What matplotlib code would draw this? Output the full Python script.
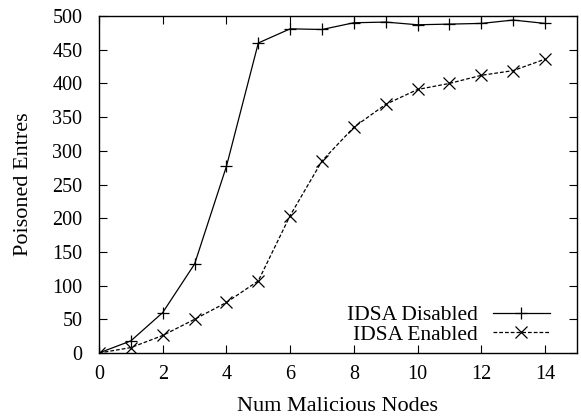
import matplotlib
matplotlib.use("Agg")
import matplotlib.pyplot as plt

plt.rcParams['font.family'] = ['Liberation Serif', 'DejaVu Serif']
plt.rcParams['mathtext.fontset'] = 'stix'

num_nodes = list(range(15))
idsa_disabled = [0, 18, 60, 132, 277, 460, 481, 480, 490, 491, 487, 488, 489, 494, 489]
idsa_enabled = [0, 8, 26, 50, 75, 107, 204, 285, 335, 369, 391, 400, 412, 419, 436]

x_ticks = [0, 2, 4, 6, 8, 10, 12, 14]
y_ticks = [0, 50, 100, 150, 200, 250, 300, 350, 400, 450, 500]

fig = plt.figure(figsize=(5.81, 4.17), dpi=100)
ax = fig.add_axes([0.1704, 0.1535, 0.8226, 0.8081])

ax.plot(num_nodes, idsa_disabled, color='black', linewidth=0.9,
        marker='+', markersize=9, markeredgewidth=0.9, label='IDSA Disabled')
ax.plot(num_nodes, idsa_enabled, color='black', linewidth=0.9,
        linestyle=(0, (3, 1.6)), marker='x', markersize=8, markeredgewidth=0.9,
        label='IDSA Enabled')

ax.set_xlim(0, 15)
ax.set_ylim(0, 500)
ax.set_xticks(x_ticks)
ax.set_yticks(y_ticks)
ax.tick_params(direction='in', top=True, right=True, length=6, width=0.8,
               labelsize=14.5)
ax.tick_params(axis='x', pad=9)
ax.tick_params(axis='y', pad=12)
for s in ax.spines.values():
    s.set_linewidth(1.0)

ax.set_xlabel('Num Malicious Nodes', fontsize=16, labelpad=9)
ax.set_ylabel('Poisoned Entres', fontsize=16, labelpad=14)

ax.legend(loc='lower right', bbox_to_anchor=(0.943, 0.025), frameon=False,
          fontsize=15.5, markerfirst=False, handlelength=2.65,
          handletextpad=0.7, labelspacing=-0.04, borderaxespad=0.0,
          borderpad=0.0)

fig.savefig('out.png', dpi=100)
